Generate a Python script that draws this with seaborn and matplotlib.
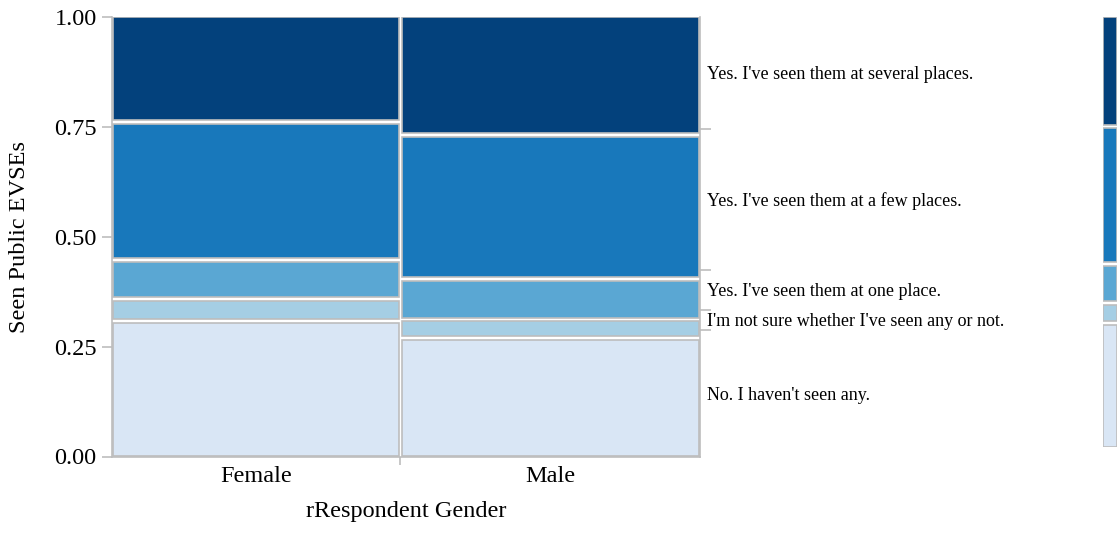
import numpy as np
import seaborn as sns
import matplotlib
import matplotlib.pyplot as plt
from matplotlib.ticker import FixedLocator
plt.switch_backend('Agg')

sns.set_theme(style="white")
# seaborn resets the family, so set the serif list afterwards
matplotlib.rcParams['font.family'] = ["Liberation Serif", "DejaVu Serif"]

genders = ["Female", "Male"]
gender_share = [0.4906, 0.5094]
answers = [
    "No. I haven't seen any.",
    "I'm not sure whether I've seen any or not.",
    "Yes. I've seen them at one place.",
    "Yes. I've seen them at a few places.",
    "Yes. I've seen them at several places.",
]
female_share = [0.3075, 0.0500, 0.0888, 0.3140, 0.2397]
male_share = [0.2690, 0.0427, 0.0925, 0.3270, 0.2688]
palette = ["#d9e6f5", "#a5cee4", "#5aa7d3", "#1878bb", "#03417c"]

EDGE = "#bdbdbd"
LW = 1.2
W, H = 1118, 534

fig = plt.figure(figsize=(W / 100, H / 100), dpi=100)
ax = fig.add_axes([112 / W, (H - 456.5) / H, 588 / W, 439.5 / H])

shares = np.array([female_share, male_share])
xgap = 3.2 / 588
ygap = 3.8 / 439

# mosaic blocks
xedges = np.concatenate([[0], np.cumsum(gender_share)])
for g in range(len(genders)):
    x0 = xedges[g] + (xgap / 2 if g > 0 else 0.002)
    x1 = xedges[g + 1] - (xgap / 2 if g < len(genders) - 1 else 0.002)
    yedges = np.concatenate([[0], np.cumsum(shares[g])])
    yedges = yedges / yedges[-1]
    for k in range(len(answers)):
        y0 = yedges[k] + (ygap / 2 if k > 0 else 0.002)
        y1 = yedges[k + 1] - (ygap / 2 if k < len(answers) - 1 else 0.001)
        ax.bar(x0, y1 - y0, width=x1 - x0, bottom=y0, align="edge",
               color=palette[k], edgecolor=EDGE, linewidth=LW)

ax.set_xlim(0, 1)
ax.set_ylim(0, 1)
for side in ["left", "bottom", "right"]:
    ax.spines[side].set_color(EDGE)
    ax.spines[side].set_linewidth(LW)
ax.spines["top"].set_visible(False)

# left axis
ax.set_yticks([0, 0.25, 0.5, 0.75, 1.0])
ax.set_yticklabels(["0.00", "0.25", "0.50", "0.75", "1.00"])
ax.tick_params(axis="y", which="major", left=True, length=7.5, width=LW,
               color=EDGE, pad=3.5, labelsize=17.5, labelcolor="black")
ax.set_ylabel("Seen Public EVSEs", fontsize=17.5, labelpad=17, color="black")

# bottom axis: labels at centres, ticks at the inner boundaries
xcent = (xedges[:-1] + xedges[1:]) / 2
ax.set_xticks(xcent)
ax.set_xticklabels(genders)
ax.xaxis.set_minor_locator(FixedLocator(xedges[1:-1]))
ax.tick_params(axis="x", which="major", bottom=True, length=0, pad=7,
               labelsize=17.5, labelcolor="black")
ax.tick_params(axis="x", which="minor", bottom=True, length=6, width=LW,
               color=EDGE)
ax.set_xlabel("rRespondent Gender", fontsize=17.5, labelpad=10, color="black")

# right axis: marginal distribution of the answers
marginal = np.array(gender_share) @ shares
marginal = marginal / marginal.sum()
redges = np.concatenate([[0], np.cumsum(marginal)])
ax2 = ax.twinx()
ax2.set_ylim(0, 1)
for side in ax2.spines:
    ax2.spines[side].set_visible(False)
ax2.set_yticks((redges[:-1] + redges[1:]) / 2)
ax2.set_yticklabels(answers)
ax2.yaxis.set_minor_locator(FixedLocator(redges[1:-1]))
ax2.tick_params(axis="y", which="major", right=True, length=0, pad=5,
                labelsize=13, labelcolor="black")
ax2.tick_params(axis="y", which="minor", right=True, length=8, width=LW,
                color=EDGE)

# legend strip on the far right
lax = fig.add_axes([1102.5 / W, (H - 446.7) / H, 14.5 / W, 429.4 / H])
lgap = 3.6 / 429
for k in range(len(answers)):
    y0 = redges[k] + (lgap / 2 if k > 0 else 0)
    y1 = redges[k + 1] - (lgap / 2 if k < len(answers) - 1 else 0)
    lax.bar(0, y1 - y0, width=1, bottom=y0, align="edge",
            color=palette[k], edgecolor=EDGE, linewidth=LW)
lax.set_xlim(0, 1)
lax.set_ylim(0, 1)
lax.axis("off")

plt.savefig("out.png", dpi=100)
